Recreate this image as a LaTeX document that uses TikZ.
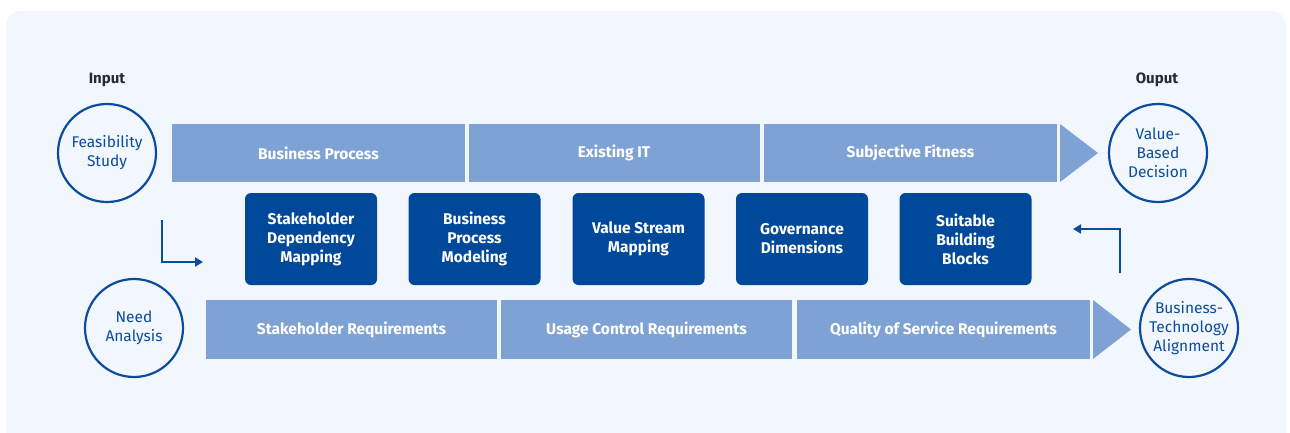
\documentclass[tikz,border=0pt]{standalone}
\usepackage{fontspec}
\setmainfont{Fira Sans}
\usetikzlibrary{arrows.meta}
\definecolor{bgblue}{HTML}{F2F6FD}
\definecolor{bandblue}{HTML}{7FA2D4}
\definecolor{darkblue}{HTML}{00489A}
\definecolor{circblue}{HTML}{0B4C9C}
\definecolor{labelgray}{HTML}{222B3A}
\tikzset{
  band/.style={fill=bandblue, text=white, font=\fontsize{15.5}{19}\selectfont\bfseries, minimum height=58pt, inner sep=0pt, anchor=center},
  block/.style={fill=darkblue, text=white, rounded corners=6pt, minimum width=132pt, minimum height=92pt, align=center, inner sep=0pt, font=\fontsize{15.5}{19}\selectfont\bfseries},
  circ/.style={circle, draw=circblue, line width=2.2pt, minimum size=98pt, inner sep=0pt, align=center, text=circblue, font=\fontsize{15.5}{19}\selectfont},
  lbl/.style={text=labelgray, font=\fontsize{15}{18}\selectfont\bfseries},
  flow/.style={draw=circblue, line width=2pt, -{Triangle[length=8pt,width=9pt]}},
  tri/.style={fill=bandblue}
}
\begin{document}
\begin{tikzpicture}[x=1pt,y=-1pt]
\useasboundingbox (0,0) rectangle (1290,432);
\fill[white] (0,0) rectangle (1290,432);
\begin{scope}
\clip (0,0) rectangle (1290,432);
\fill[bgblue, rounded corners=15pt] (6,11) rectangle (1286,460);
\end{scope}
% labels
\node[lbl] (inlbl) at (107,80) {Input};
\node[lbl] (outlbl) at (1157,80) {Ouput};
% top band
\node[band, minimum width=293pt] (bp) at (318.5,153) {Business Process};
\node[band, minimum width=291pt] (eit) at (614,153) {Existing IT};
\node[band, minimum width=293pt] (sf) at (910.5,153) {Subjective Fitness};
\fill[tri] (1060,124) -- (1098,153) -- (1060,182) -- cycle;
% bottom band
\node[band, minimum width=291pt, minimum height=59pt] (sr) at (351.5,329.5) {Stakeholder Requirements};
\node[band, minimum width=291pt, minimum height=59pt] (ucr) at (646.5,329.5) {Usage Control Requirements};
\node[band, minimum width=293pt, minimum height=59pt] (qsr) at (943.5,329.5) {Quality of Service Requirements};
\fill[tri] (1093,300) -- (1131,329.5) -- (1093,359) -- cycle;
% blocks
\node[block] (b1) at (311,239) {Stakeholder\\Dependency\\Mapping};
\node[block] (b2) at (474.5,239) {Business\\Process\\Modeling};
\node[block] (b3) at (638.5,239) {Value Stream\\Mapping};
\node[block] (b4) at (802,239) {Governance\\Dimensions};
\node[block] (b5) at (965.5,239) {Suitable\\Building\\Blocks};
% circles
\node[circ] (fs) at (107,153) {Feasibility\\Study};
\node[circ] (vbd) at (1158,153) {Value-\\Based\\Decision};
\node[circ] (na) at (134,328) {Need\\Analysis};
\node[circ] (bta) at (1189,328) {Business-\\Technology\\Alignment};
% arrows
\coordinate (la0) at (162,220);
\coordinate (la1) at (203,262);
\draw[flow] (la0) |- (la1);
\coordinate (ra0) at (1120,273);
\coordinate (ra1) at (1073,229);
\draw[flow] (ra0) |- (ra1);
\end{tikzpicture}
\end{document}
